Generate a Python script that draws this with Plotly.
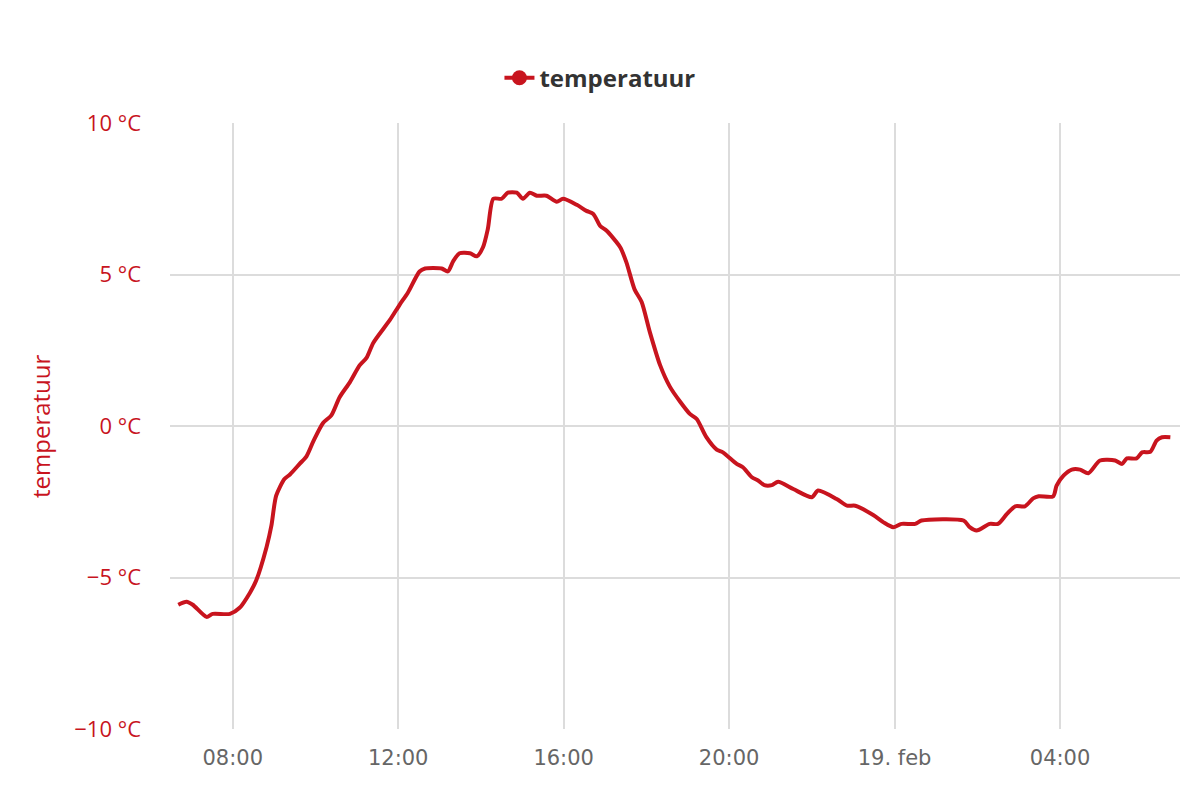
import plotly.graph_objects as go

# temperature readings (18-19 feb)
times = [
    "2025-02-18 06:41", "2025-02-18 06:53", "2025-02-18 07:02", "2025-02-18 07:22", "2025-02-18 07:31",
    "2025-02-18 07:56", "2025-02-18 08:10", "2025-02-18 08:25", "2025-02-18 08:34", "2025-02-18 08:49",
    "2025-02-18 08:56", "2025-02-18 09:03", "2025-02-18 09:15", "2025-02-18 09:23", "2025-02-18 09:37",
    "2025-02-18 09:47", "2025-02-18 09:57", "2025-02-18 10:11", "2025-02-18 10:23", "2025-02-18 10:35",
    "2025-02-18 10:50", "2025-02-18 11:04", "2025-02-18 11:14", "2025-02-18 11:24", "2025-02-18 11:48",
    "2025-02-18 12:02", "2025-02-18 12:14", "2025-02-18 12:31", "2025-02-18 12:39", "2025-02-18 13:03",
    "2025-02-18 13:12", "2025-02-18 13:20", "2025-02-18 13:29", "2025-02-18 13:44", "2025-02-18 13:54",
    "2025-02-18 14:03", "2025-02-18 14:10", "2025-02-18 14:18", "2025-02-18 14:30", "2025-02-18 14:39",
    "2025-02-18 14:52", "2025-02-18 15:01", "2025-02-18 15:11", "2025-02-18 15:21", "2025-02-18 15:35",
    "2025-02-18 15:50", "2025-02-18 15:59", "2025-02-18 16:19", "2025-02-18 16:33", "2025-02-18 16:43",
    "2025-02-18 16:53", "2025-02-18 17:02", "2025-02-18 17:22", "2025-02-18 17:31", "2025-02-18 17:43",
    "2025-02-18 17:53", "2025-02-18 18:05", "2025-02-18 18:20", "2025-02-18 18:34", "2025-02-18 18:49",
    "2025-02-18 19:03", "2025-02-18 19:13", "2025-02-18 19:27", "2025-02-18 19:42", "2025-02-18 19:51",
    "2025-02-18 20:11", "2025-02-18 20:20", "2025-02-18 20:33", "2025-02-18 20:42", "2025-02-18 20:51",
    "2025-02-18 21:02", "2025-02-18 21:11", "2025-02-18 21:33", "2025-02-18 22:00", "2025-02-18 22:09",
    "2025-02-18 22:36", "2025-02-18 22:51", "2025-02-18 23:03", "2025-02-18 23:29", "2025-02-18 23:44",
    "2025-02-18 23:58", "2025-02-19 00:10", "2025-02-19 00:30", "2025-02-19 00:39", "2025-02-19 01:40",
    "2025-02-19 01:49", "2025-02-19 01:59", "2025-02-19 02:18", "2025-02-19 02:30", "2025-02-19 02:43",
    "2025-02-19 02:55", "2025-02-19 03:09", "2025-02-19 03:21", "2025-02-19 03:29", "2025-02-19 03:50",
    "2025-02-19 03:55", "2025-02-19 04:05", "2025-02-19 04:17", "2025-02-19 04:29", "2025-02-19 04:41",
    "2025-02-19 04:58", "2025-02-19 05:20", "2025-02-19 05:30", "2025-02-19 05:37", "2025-02-19 05:51",
    "2025-02-19 05:59", "2025-02-19 06:11", "2025-02-19 06:20", "2025-02-19 06:28", "2025-02-19 06:40",
]
temps = [
    -5.9, -5.8, -5.9, -6.3, -6.2,
    -6.2, -6.0, -5.5, -5.1, -4.0,
    -3.3, -2.3, -1.75, -1.6, -1.25,
    -1.0, -0.5, 0.1, 0.35, 0.95,
    1.45, 2.0, 2.25, 2.75, 3.5,
    4.0, 4.4, 5.1, 5.2, 5.2,
    5.1, 5.45, 5.7, 5.7, 5.6,
    5.9, 6.5, 7.5, 7.5, 7.7,
    7.7, 7.5, 7.7, 7.6, 7.6,
    7.4, 7.5, 7.3, 7.1, 7.0,
    6.6, 6.45, 5.9, 5.4, 4.5,
    4.1, 3.1, 2.0, 1.3, 0.8,
    0.4, 0.23, -0.37, -0.78, -0.87,
    -1.25, -1.36, -1.69, -1.8, -1.95,
    -1.95, -1.84, -2.08, -2.35, -2.13,
    -2.41, -2.63, -2.63, -2.94, -3.18,
    -3.34, -3.23, -3.23, -3.12, -3.12,
    -3.34, -3.45, -3.23, -3.23, -2.9,
    -2.65, -2.65, -2.39, -2.32, -2.32,
    -1.97, -1.64, -1.44, -1.44, -1.56,
    -1.14, -1.14, -1.25, -1.07, -1.07,
    -0.87, -0.85, -0.48, -0.37, -0.37,
]

x_ticks = ["2025-02-18 08:00", "2025-02-18 12:00", "2025-02-18 16:00",
           "2025-02-18 20:00", "2025-02-19 00:00", "2025-02-19 04:00"]
x_labels = ["08:00", "12:00", "16:00", "20:00", "19. feb", "04:00"]
y_ticks = [-10, -5, 0, 5, 10]
y_labels = ["\u221210 \u00b0C", "\u22125 \u00b0C", "0 \u00b0C", "5 \u00b0C", "10 \u00b0C"]

red = "#c8141e"
font = "'Open Sans', sans-serif"

fig = go.Figure()
fig.add_trace(go.Scatter(
    x=times, y=temps, mode="lines", name="temperatuur", showlegend=False,
    line=dict(color=red, width=4, shape="spline", smoothing=0.7),
))
# legend entry with the marker, like the original
fig.add_trace(go.Scatter(
    x=[None], y=[None], mode="lines+markers", name="temperatuur",
    line=dict(color=red, width=4), marker=dict(color=red, size=15),
))

# page has an 8px body margin, so the margins are shifted by that
fig.update_layout(
    width=1200, height=800,
    margin=dict(l=162, r=28, t=115, b=79),
    paper_bgcolor="white", plot_bgcolor="white",
    font=dict(family=font),
    legend=dict(orientation="h", x=0.4257, xanchor="center", y=1.074, yanchor="middle",
                font=dict(size=24, color="#333333", family=font, weight="bold")),
    annotations=[dict(text="temperatuur", textangle=-90, xref="paper", yref="paper",
                      x=-0.1287, xanchor="center", y=0.5, yanchor="middle", showarrow=False,
                      font=dict(size=24, color=red, family=font))],
)
fig.update_xaxes(
    range=["2025-02-18 06:29", "2025-02-19 06:54"],
    tickvals=x_ticks, ticktext=x_labels,
    showgrid=True, gridcolor="#dcdcdc", gridwidth=2,
    showline=False, zeroline=False, ticks="",
    ticklabelstandoff=14,
    tickfont=dict(size=21, color="#666666", family="'DejaVu Sans', sans-serif"),
)
fig.update_yaxes(
    range=[-10, 10],
    tickvals=y_ticks, ticktext=y_labels,
    showgrid=True, gridcolor="#dcdcdc", gridwidth=2,
    showline=False, zeroline=False, ticks="",
    ticklabelstandoff=28,
    tickfont=dict(size=22, color=red),
)

fig.write_html("out.html")
